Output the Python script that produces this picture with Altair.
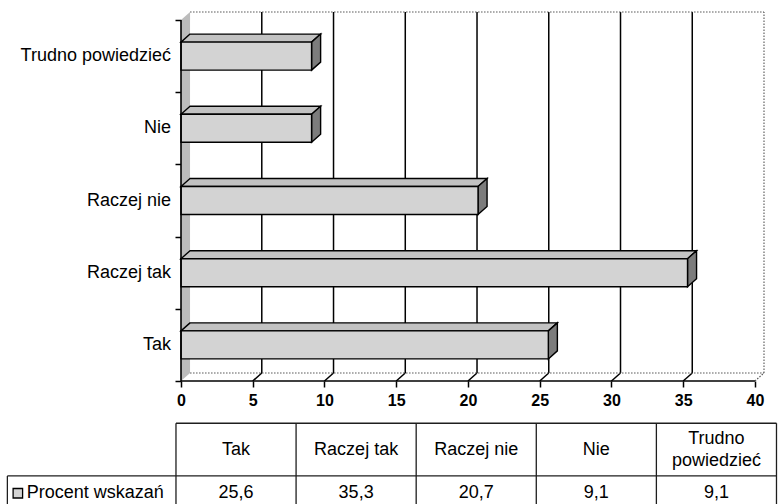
import altair as alt
import pandas as pd

# ---- data ----
categories = ["Tak", "Raczej tak", "Raczej nie", "Nie", "Trudno powiedzieć"]
values = [25.6, 35.3, 20.7, 9.1, 9.1]
series_name = "Procent wskazań"
header_labels = ["Tak", "Raczej tak", "Raczej nie", "Nie", "Trudno\npowiedzieć"]
x_ticks = [0, 5, 10, 15, 20, 25, 30, 35, 40]

# ---- pseudo-3D frame geometry (scale units) ----
N = len(categories)
X_MAX = 40
DX = 0.63       # depth shift along the value axis
DY = 0.111      # depth shift along the category axis
HALF = 0.194    # half thickness of a bar's front face

# data table below the plot (scale units, outside the plotted domain)
TABLE_TOP = -0.585
ROW_SPLIT = -1.315
TABLE_BOTTOM = -1.8
COL_LEFT = -0.35
COL_W = 8.37
LABEL_LEFT = -12.1
HEADER_Y = -0.955
HEADER_LINE = 0.305   # one text line of the header, in category units
VALUE_Y = -1.555
KEY_X = -11.37
NAME_X = -10.75

FONT = "Liberation Sans"
FRONT = "#d3d3d3"
TOPFACE = "#c2c2c2"
SIDE = "#7c7c7c"
WALL = "#bcbcbc"

x_scale = alt.Scale(domain=[0, X_MAX + DX], nice=False, zero=False)
y_scale = alt.Scale(domain=[0, N + DY], nice=False, zero=False)

# one axis definition shared by every layer, so the layers merge cleanly
x_axis = alt.Axis(values=x_ticks, title=None, domain=False, grid=False, tickSize=6,
                  tickWidth=1.5, tickColor="black", labelFont=FONT, labelFontSize=16,
                  labelFontWeight="bold", labelColor="black", labelPadding=5,
                  labelFlush=False)
y_axis = alt.Axis(values=list(range(N + 1)), title=None, domain=False, grid=False,
                  labels=False, tickSize=6, tickWidth=1.5, tickColor="black")


def X(**kw):
    return alt.X("x:Q", scale=x_scale, axis=x_axis, **kw)


def Y(**kw):
    return alt.Y("y:Q", scale=y_scale, axis=y_axis, **kw)


def enc(x2=False, y2=False, **extra):
    e = {"x": X(), "y": Y()}
    if x2:
        e["x2"] = alt.X2("x2:Q")
    if y2:
        e["y2"] = alt.Y2("y2:Q")
    e.update(extra)
    return e


# ---- back wall, floor and left wall ----
inner = [t for t in x_ticks if 0 < t < X_MAX]
grid = pd.DataFrame({"x": [t + DX for t in inner], "x2": [t + DX for t in inner],
                     "y": [DY] * len(inner), "y2": [N + DY] * len(inner)})
floor = pd.DataFrame({"x": inner, "x2": [t + DX for t in inner],
                      "y": [0] * len(inner), "y2": [DY] * len(inner)})
edges = pd.DataFrame({
    "x":  [DX, DX, X_MAX + DX, X_MAX],
    "x2": [X_MAX + DX, X_MAX + DX, X_MAX + DX, X_MAX + DX],
    "y":  [DY, N + DY, DY, 0],
    "y2": [DY, N + DY, N + DY, DY],
})
wall = pd.DataFrame({"x": [0, DX], "y": [0, DY], "y2": [N, N + DY]})

grid_layer = alt.Chart(grid).mark_rule(color="black", strokeWidth=1.5).encode(**enc(True, True))
floor_layer = alt.Chart(floor).mark_rule(color="black", strokeWidth=1.5).encode(**enc(True, True))
edge_layer = alt.Chart(edges).mark_rule(color="#555555", strokeWidth=1.1,
                                        strokeDash=[1.5, 1.5]).encode(**enc(True, True))
wall_layer = alt.Chart(wall).mark_area(orient="vertical", color=WALL).encode(
    x=X(), y=Y(stack=False), y2=alt.Y2("y2:Q"))

# ---- bars ----
bars = pd.DataFrame({"cat": categories, "value": values, "pos": list(range(N))})
bars["c"] = bars["pos"] + 0.5

front = pd.DataFrame({"cat": bars["cat"], "x": 0.0, "x2": bars["value"],
                      "y": bars["c"] - HALF, "y2": bars["c"] + HALF})

top_rows, side_rows = [], []
for cat, v, c in zip(bars["cat"], bars["value"], bars["c"]):
    top_rows.append({"cat": cat, "y": c + HALF, "x": 0.0, "x2": v})
    top_rows.append({"cat": cat, "y": c + HALF + DY, "x": DX, "x2": v + DX})
    side_rows.append({"cat": cat, "x": v, "y": c - HALF, "y2": c + HALF})
    side_rows.append({"cat": cat, "x": v + DX, "y": c - HALF + DY, "y2": c + HALF + DY})
top = pd.DataFrame(top_rows)
side = pd.DataFrame(side_rows)

top_layer = alt.Chart(top).mark_area(orient="horizontal", fill=TOPFACE, stroke="black",
                                     strokeWidth=1.4, strokeJoin="miter").encode(
    y=Y(), x=X(stack=False), x2=alt.X2("x2:Q"), detail="cat:N")
side_layer = alt.Chart(side).mark_area(orient="vertical", fill=SIDE, stroke="black",
                                       strokeWidth=1.4, strokeJoin="miter").encode(
    x=X(), y=Y(stack=False), y2=alt.Y2("y2:Q"), detail="cat:N")
front_layer = alt.Chart(front).mark_rect(fill=FRONT, stroke="black",
                                         strokeWidth=1.4).encode(**enc(True, True))

# ---- front edges of the frame ----
axis_lines = pd.DataFrame({"x": [0, 0], "x2": [X_MAX, 0], "y": [0, 0], "y2": [0, N]})
axis_layer = alt.Chart(axis_lines).mark_rule(color="black", strokeWidth=1.6).encode(
    **enc(True, True))

cat_labels = pd.DataFrame({"x": 0.0, "y": bars["c"], "label": bars["cat"]})
cat_layer = alt.Chart(cat_labels).mark_text(align="right", baseline="middle", dx=-10,
                                            font=FONT, fontSize=18, color="black").encode(
    **enc(), text="label:N")

# ---- data table ----
col_edges = [COL_LEFT + i * COL_W for i in range(N + 1)]
col_centers = [COL_LEFT + (i + 0.5) * COL_W for i in range(N)]
table_lines = pd.DataFrame({
    "x":  [COL_LEFT, LABEL_LEFT] + col_edges + [LABEL_LEFT],
    "x2": [col_edges[-1], col_edges[-1]] + col_edges + [LABEL_LEFT],
    "y":  [TABLE_TOP, ROW_SPLIT] + [TABLE_TOP] * (N + 1) + [ROW_SPLIT],
    "y2": [TABLE_TOP, ROW_SPLIT] + [TABLE_BOTTOM] * (N + 1) + [TABLE_BOTTOM],
})
table_layer = alt.Chart(table_lines).mark_rule(color="#1e1e1e", strokeWidth=1.3).encode(
    **enc(True, True))

# multi-line headers: first line moved up so the block is centred in the row
headers = pd.DataFrame({
    "x": col_centers,
    "y": [HEADER_Y + lab.count("\n") * HEADER_LINE / 2 for lab in header_labels],
    "label": header_labels,
})
header_layer = alt.Chart(headers).mark_text(align="center", baseline="middle", lineBreak="\n",
                                            lineHeight=22, font=FONT, fontSize=18,
                                            color="black").encode(**enc(), text="label:N")

cells = pd.DataFrame({"x": col_centers, "y": VALUE_Y,
                      "label": [f"{v:.1f}".replace(".", ",") for v in values]})
value_layer = alt.Chart(cells).mark_text(align="center", baseline="middle", font=FONT,
                                         fontSize=18, color="black").encode(**enc(), text="label:N")

key = pd.DataFrame({"x": [KEY_X], "y": [VALUE_Y]})
key_layer = alt.Chart(key).mark_square(size=90, fill=FRONT, stroke="black", strokeWidth=1.3,
                                       opacity=1).encode(**enc())

name = pd.DataFrame({"x": [NAME_X], "y": [VALUE_Y], "label": [series_name]})
name_layer = alt.Chart(name).mark_text(align="left", baseline="middle", font=FONT, fontSize=18,
                                       color="black").encode(**enc(), text="label:N")

chart = alt.layer(
    grid_layer, floor_layer, edge_layer, wall_layer,
    top_layer, side_layer, front_layer,
    axis_layer, cat_layer,
    table_layer, header_layer, value_layer, key_layer, name_layer,
).properties(
    width=583, height=369,
    autosize=alt.AutoSizeParams(type="none"),
    padding={"left": 181, "top": 12, "right": 14, "bottom": 123},
    background="white",
).configure_view(strokeWidth=0)

chart.save("out.html", embed_options={"renderer": "svg", "actions": False})
